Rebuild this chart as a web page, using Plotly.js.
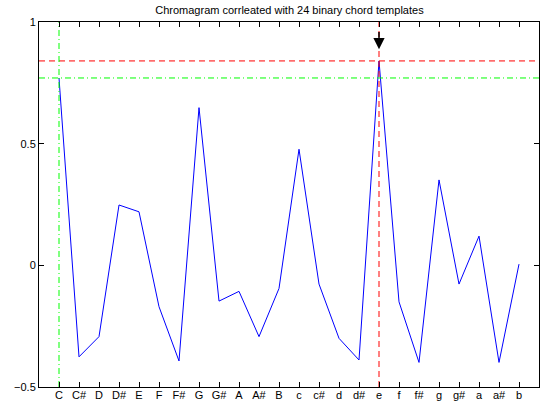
<!DOCTYPE html>
<html>
<head>
<meta charset="utf-8">
<script src="https://cdn.plot.ly/plotly-3.0.1.min.js"></script>
<style>html,body{margin:0;padding:0;background:#fff;}#chart{width:540px;height:404px;}</style>
</head>
<body>
<div id="chart"></div>
<script>
const chords = ["C","C#","D","D#","E","F","F#","G","G#","A","A#","B",
                "c","c#","d","d#","e","f","f#","g","g#","a","a#","b"];
const correlation = [0.77,-0.376,-0.293,0.248,0.220,-0.170,-0.393,0.648,-0.147,-0.107,-0.293,-0.095,
                     0.477,-0.077,-0.300,-0.389,0.840,-0.150,-0.399,0.351,-0.077,0.120,-0.399,0.005];
const trueChordIndex = 0;   // C (green)
const xRange = [0, 25];
const yRange = [-0.5, 1];
const yTicks = [-0.5, 0, 0.5, 1];
const yTickText = ["\u22120.5", "0", "0.5", "1"];

const xs = chords.map((_, i) => i + 1);
const maxVal = Math.max(...correlation);
const maxIdx = correlation.indexOf(maxVal);
const trueVal = correlation[trueChordIndex];

const traces = [
  {x: xs, y: correlation, type: 'scatter', mode: 'lines',
   line: {color: '#0000ff', width: 1}, hoverinfo: 'skip'},
  {x: xRange, y: [maxVal, maxVal], type: 'scatter', mode: 'lines',
   line: {color: '#ff0000', width: 1, dash: '6px,4px'}},
  {x: [xs[maxIdx], xs[maxIdx]], y: yRange, type: 'scatter', mode: 'lines',
   line: {color: '#ff0000', width: 1, dash: '6px,4px'}},
  {x: xRange, y: [trueVal, trueVal], type: 'scatter', mode: 'lines',
   line: {color: '#00ff00', width: 1, dash: '6px,3px,1px,3px'}},
  {x: [xs[trueChordIndex], xs[trueChordIndex]], y: yRange, type: 'scatter', mode: 'lines',
   line: {color: '#00ff00', width: 1, dash: '6px,3px,1px,3px'}}
];

const axisCommon = {
  showgrid: false, zeroline: false, showline: true, mirror: 'ticks',
  linecolor: '#000', linewidth: 1, ticks: 'inside', ticklen: 5, tickcolor: '#000',
  tickfont: {family: 'Liberation Sans, Arial, sans-serif', size: 11, color: '#000'}
};

const layout = {
  width: 540, height: 404,
  margin: {l: 39, r: 1, t: 22, b: 17},
  paper_bgcolor: '#fff', plot_bgcolor: '#fff',
  showlegend: false,
  title: {text: 'Chromagram corrleated with 24 binary chord templates',
          font: {family: 'Liberation Sans, Arial, sans-serif', size: 11, color: '#000'},
          x: 0.536, xanchor: 'center', y: 0.975, yanchor: 'middle'},
  xaxis: Object.assign({}, axisCommon, {range: xRange, tickmode: 'array',
          tickvals: xs, ticktext: chords, ticklabelstandoff: -2}),
  yaxis: Object.assign({}, axisCommon, {range: yRange, tickmode: 'array',
          tickvals: yTicks, ticktext: yTickText}),
  annotations: [{
    x: xs[maxIdx], y: 0.888, xref: 'x', yref: 'y',
    ax: xs[maxIdx], ay: 0.965, axref: 'x', ayref: 'y',
    showarrow: true, arrowhead: 2, arrowsize: 1.5, arrowwidth: 1.5, arrowcolor: '#000', text: ''
  }]
};

Plotly.newPlot('chart', traces, layout, {displayModeBar: false, staticPlot: true});
</script>
</body>
</html>
